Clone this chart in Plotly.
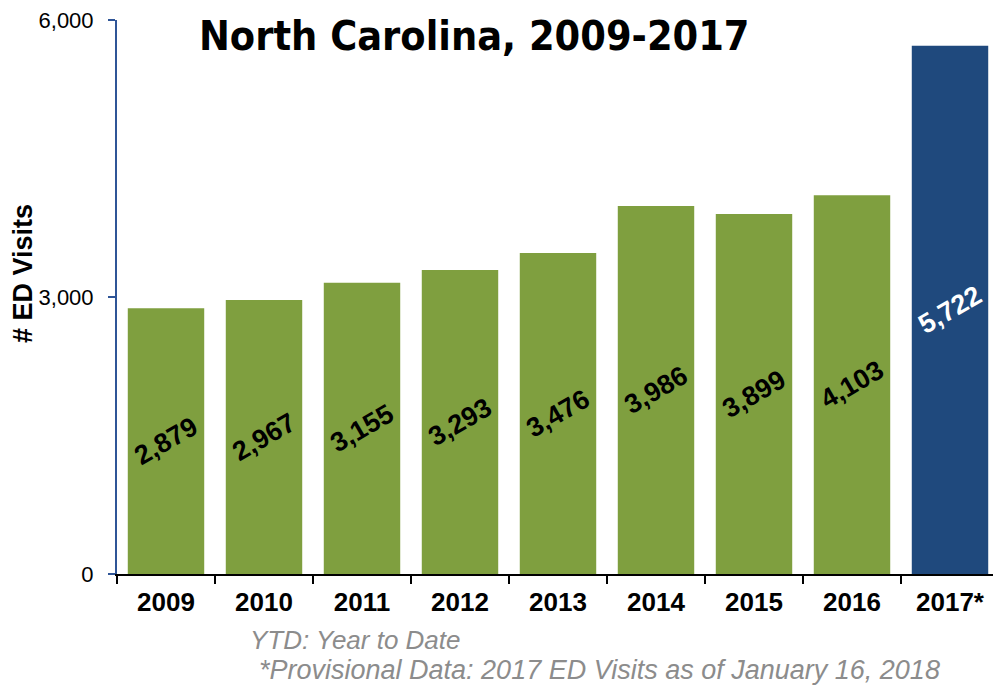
import plotly.graph_objects as go

years = ["2009", "2010", "2011", "2012", "2013", "2014", "2015", "2016", "2017*"]
visits = [2879, 2967, 3155, 3293, 3476, 3986, 3899, 4103, 5722]
bar_colors = ["#7F9F3F"] * 8 + ["#1F497D"]
label_colors = ["black"] * 8 + ["white"]
title_text = "North Carolina, 2009-2017"
y_title = "# ED Visits"
notes = ["YTD: Year to Date", "*Provisional Data: 2017 ED Visits as of January 16, 2018"]

W, H = 993, 687
L, R, T, B = 117, 0, 20, 113
pw = W - L - R
ph = H - T - B
FONT = "Liberation Sans, Arial"

fig = go.Figure(go.Bar(
    x=years, y=visits,
    marker=dict(color=bar_colors, line=dict(width=0)),
    text=[f"{v:,}" for v in visits],
    textposition="inside",
    insidetextanchor="middle",
    textangle=-30,
    constraintext="none",
    textfont=dict(family=FONT, size=27, color=label_colors, weight="bold"),
    cliponaxis=False,
))

fig.update_layout(
    width=W, height=H,
    margin=dict(l=L, r=R, t=T, b=B),
    plot_bgcolor="white", paper_bgcolor="white",
    bargap=0.22,
    showlegend=False,
    font=dict(family=FONT, color="black"),
    xaxis=dict(
        type="category", range=[-0.5, -0.5 + pw / 98.0],
        showline=True, linecolor="black", linewidth=2,
        ticks="outside", tickson="boundaries", ticklen=8, tickwidth=2, tickcolor="black",
        ticklabelstandoff=4,
        tickfont=dict(size=26, weight="bold", color="black"),
        showgrid=False, zeroline=False,
    ),
    yaxis=dict(
        range=[0, 6000], tickvals=[0, 3000, 6000], tickformat=",",
        showline=True, linecolor="#2F5597", linewidth=2,
        ticks="outside", ticklen=7, tickwidth=2, tickcolor="#2F5597",
        ticklabelstandoff=10,
        tickfont=dict(size=22, color="black"),
        showgrid=False, zeroline=False,
    ),
)

fig.add_annotation(
    text=y_title, xref="paper", yref="paper",
    x=(23 - L) / pw, y=1 - (274 - T) / ph, xanchor="center", yanchor="middle",
    textangle=-90, showarrow=False,
    font=dict(family=FONT, size=27, weight="bold", color="black"),
)
fig.add_annotation(
    text=title_text, xref="paper", yref="paper",
    x=(474 - L) / pw, y=1 - 16 / ph, xanchor="center", yanchor="middle",
    showarrow=False,
    font=dict(family="DejaVu Sans Condensed", size=41, weight="bold", color="black"),
)
fig.add_annotation(
    text=notes[0], xref="paper", yref="paper",
    x=(248 - L) / pw, y=-(640 - T - ph) / ph, xanchor="left", yanchor="middle",
    showarrow=False,
    font=dict(size=26, style="italic", color="#8C8C8C"),
)
fig.add_annotation(
    text=notes[1], xref="paper", yref="paper",
    x=(257 - L) / pw, y=-(670 - T - ph) / ph, xanchor="left", yanchor="middle",
    showarrow=False,
    font=dict(size=27, style="italic", color="#8C8C8C"),
)

fig.write_html("out.html", config={"displayModeBar": False},
               post_script="document.body.style.margin='0';")
